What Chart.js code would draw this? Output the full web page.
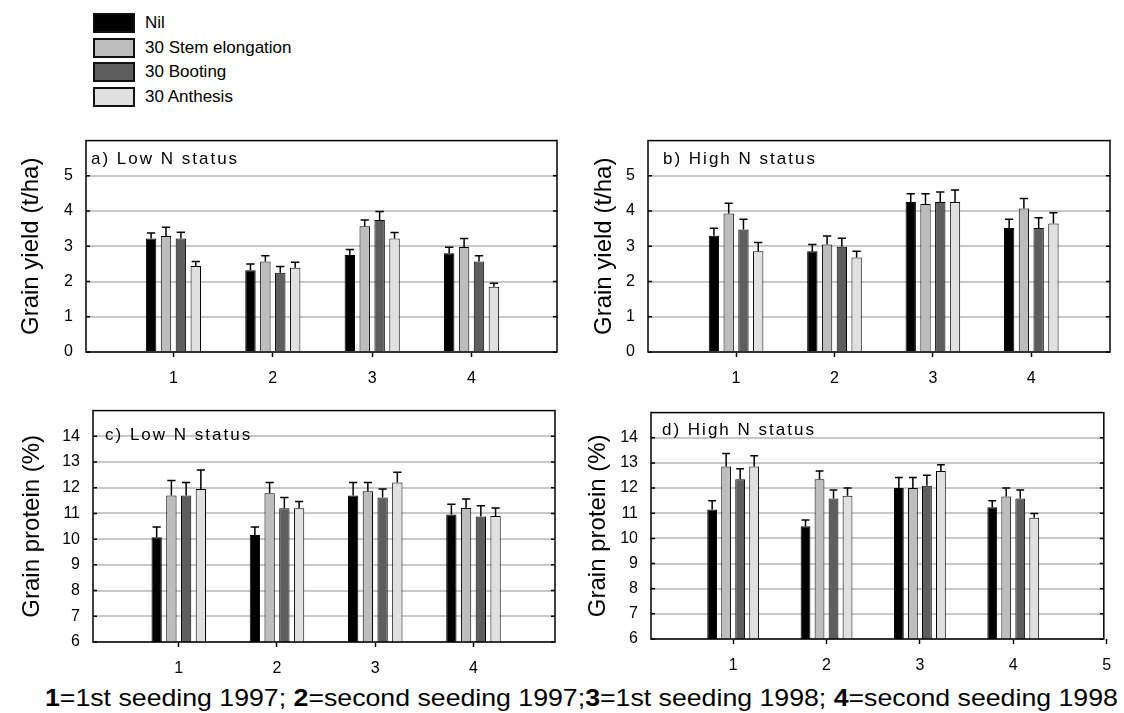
<!DOCTYPE html>
<html>
<head>
<meta charset="utf-8">
<script src="https://cdn.jsdelivr.net/npm/chart.js@4.4.1/dist/chart.umd.min.js"></script>
<style>
  body { margin: 0; background: #fff; width: 1124px; height: 713px; position: relative; overflow: hidden;
         font-family: "Liberation Sans", Arial, sans-serif; color: #000; }
  canvas { position: absolute; }
  .legend { position: absolute; left: 93px; top: 13px; }
  .legend div { display: flex; align-items: center; height: 20px; margin-bottom: 4.7px; font-size: 17px; }
  .legend .box { width: 38px; height: 16px; border: 2px solid #111; margin-right: 10px; }
  #caption { position: absolute; top: 684px; left: 45px; font-size: 24px; white-space: nowrap; transform-origin: 0 0; }
</style>
</head>
<body>
<div class="legend" id="legend"></div>
<canvas id="panelA" width="565" height="274"></canvas>
<canvas id="panelB" width="558" height="274"></canvas>
<canvas id="panelC" width="563" height="294"></canvas>
<canvas id="panelD" width="563" height="289"></canvas>
<div id="caption"><b>1</b>=1st seeding 1997; <b>2</b>=second seeding 1997;<b>3</b>=1st seeding 1998; <b>4</b>=second seeding 1998</div>
<script>
const categories = [1, 2, 3, 4];
const seriesNames = ["Nil", "30 Stem elongation", "30 Booting", "30 Anthesis"];
const seriesColors = ["#000000", "#bdbdbd", "#5e5e5e", "#e0e0e0"];

const yieldTicks = [0, 1, 2, 3, 4, 5];
const proteinTicks = [6, 7, 8, 9, 10, 11, 12, 13, 14];
const xTicks = [1, 2, 3, 4];
const xTicksWide = [1, 2, 3, 4, 5];

// a) grain yield, low N  (rows = series, cols = seeding)
const yieldLowMean = [
  [3.22, 2.32, 2.75, 2.80],
  [3.29, 2.57, 3.57, 2.98],
  [3.22, 2.25, 3.75, 2.57],
  [2.44, 2.39, 3.22, 1.85]
];
const yieldLowErr = [
  [0.16, 0.18, 0.16, 0.17],
  [0.25, 0.16, 0.18, 0.24],
  [0.18, 0.18, 0.24, 0.16],
  [0.13, 0.16, 0.17, 0.10]
];

// b) grain yield, high N
const yieldHighMean = [
  [3.30, 2.86, 4.26, 3.52],
  [3.93, 3.05, 4.20, 4.07],
  [3.48, 2.99, 4.26, 3.52],
  [2.86, 2.68, 4.26, 3.65]
];
const yieldHighErr = [
  [0.21, 0.19, 0.23, 0.25],
  [0.29, 0.24, 0.29, 0.29],
  [0.29, 0.24, 0.28, 0.29],
  [0.25, 0.18, 0.34, 0.30]
];

// c) grain protein, low N
const proteinLowMean = [
  [10.07, 10.16, 11.70, 10.96],
  [11.70, 11.79, 11.86, 11.21],
  [11.70, 11.20, 11.62, 10.88],
  [11.95, 11.20, 12.20, 10.90]
];
const proteinLowErr = [
  [0.40, 0.31, 0.50, 0.40],
  [0.58, 0.41, 0.34, 0.35],
  [0.50, 0.42, 0.33, 0.42],
  [0.74, 0.26, 0.40, 0.31]
];

// d) grain protein, high N
const proteinHighMean = [
  [11.15, 10.48, 12.00, 11.24],
  [12.86, 12.35, 12.00, 11.66],
  [12.35, 11.59, 12.09, 11.59],
  [12.86, 11.69, 12.68, 10.82]
];
const proteinHighErr = [
  [0.35, 0.25, 0.42, 0.26],
  [0.51, 0.33, 0.42, 0.34],
  [0.42, 0.33, 0.42, 0.33],
  [0.42, 0.31, 0.25, 0.17]
];

Chart.defaults.font.family = '"Liberation Sans", Arial, sans-serif';
Chart.defaults.color = "#000";

/* Legend */
const legendEl = document.getElementById("legend");
seriesNames.forEach((name, i) => {
  const row = document.createElement("div");
  row.innerHTML = `<span class="box" style="background:${seriesColors[i]}"></span>${name}`;
  legendEl.appendChild(row);
});

/* Caption squeezed to the reference width */
const caption = document.getElementById("caption");
caption.style.transform = `scaleX(${1073 / caption.offsetWidth})`;

/* error bars, frame, inner ticks, panel label */
function panelPlugin(label, labelDx, labelDy, err) {
  return {
    id: "panelDecor",
    afterDatasetsDraw(chart) {
      const ctx = chart.ctx;
      const y = chart.scales.y;
      ctx.save();
      ctx.strokeStyle = "#000";
      ctx.lineWidth = 1.5;
      chart.data.datasets.forEach((ds, i) => {
        const meta = chart.getDatasetMeta(i);
        meta.data.forEach((bar, j) => {
          const top = y.getPixelForValue(ds.data[j].y + err[i][j]);
          const w = bar.width * 0.4;
          ctx.beginPath();
          ctx.moveTo(bar.x, bar.y);
          ctx.lineTo(bar.x, top);
          ctx.moveTo(bar.x - w, top);
          ctx.lineTo(bar.x + w, top);
          ctx.stroke();
        });
      });
      ctx.restore();
    },
    afterDraw(chart) {
      const ctx = chart.ctx;
      const a = chart.chartArea;
      const y = chart.scales.y;
      ctx.save();
      ctx.strokeStyle = "#000";
      ctx.lineWidth = 1.5;
      ctx.strokeRect(a.left, a.top, a.right - a.left, a.bottom - a.top);
      y.ticks.forEach(t => {
        const py = y.getPixelForValue(t.value);
        ctx.beginPath();
        ctx.moveTo(a.left, py);
        ctx.lineTo(a.left + 4, py);
        ctx.moveTo(a.right - 4, py);
        ctx.lineTo(a.right, py);
        ctx.stroke();
      });
      ctx.fillStyle = "#000";
      ctx.font = '17px "Liberation Sans", Arial, sans-serif';
      ctx.letterSpacing = "2px";
      ctx.textBaseline = "middle";
      ctx.fillText(label, a.left + labelDx, a.top + labelDy);
      ctx.restore();
    }
  };
}

function makePanel(p) {
  const canvas = document.getElementById(p.id);
  canvas.style.left = p.left + "px";
  canvas.style.top = p.top + "px";

  const datasets = seriesNames.map((name, i) => ({
    label: name,
    data: categories.map((c, j) => ({ x: c, y: p.mean[i][j] })),
    backgroundColor: seriesColors[i],
    borderColor: "#000",
    borderWidth: 1,
    categoryPercentage: 0.6,
    barPercentage: 0.7
  }));

  new Chart(canvas, {
    type: "bar",
    data: { datasets },
    options: {
      responsive: false,
      animation: false,
      layout: { padding: { top: 10, right: p.padRight, left: 0, bottom: 0 } },
      plugins: { legend: { display: false }, tooltip: { enabled: false } },
      scales: {
        x: {
          type: "linear",
          offset: false,
          min: p.xMin,
          max: p.xMax,
          afterBuildTicks: s => { s.ticks = p.xTicks.map(v => ({ value: v })); },
          afterFit: s => { s.height = 40; },
          ticks: { font: { size: 16 }, padding: 12, autoSkip: false, maxRotation: 0 },
          grid: { offset: false, drawOnChartArea: false, drawTicks: true, tickLength: 5, tickColor: "#000", tickWidth: 1.5 },
          border: { display: false }
        },
        y: {
          min: p.yMin,
          max: p.yMax,
          afterBuildTicks: s => { s.ticks = p.yTicks.map(v => ({ value: v })); },
          afterFit: s => { s.width = p.axisW; },
          ticks: { font: { size: 16 }, padding: 13 },
          grid: { color: "#c8c8c8", lineWidth: 2, drawTicks: false },
          border: { display: false },
          title: { display: true, text: p.yTitle, font: { size: 24 }, padding: { top: p.titlePad, bottom: 0 } }
        }
      }
    },
    plugins: [panelPlugin(p.label, p.labelDx, p.labelDy, p.err)]
  });
}

makePanel({ id: "panelA", left: 0, top: 118, axisW: 86, titlePad: 16.6, padRight: 8,
  xMin: 0.12, xMax: 4.86, xTicks: xTicks, yMin: 0, yMax: 6, yTicks: yieldTicks,
  yTitle: "Grain yield (t/ha)", label: "a) Low N status", labelDx: 5, labelDy: 19,
  mean: yieldLowMean, err: yieldLowErr });

makePanel({ id: "panelB", left: 560, top: 118, axisW: 88, titlePad: 29.6, padRight: 8,
  xMin: 0.105, xMax: 4.8, xTicks: xTicks, yMin: 0, yMax: 6, yTicks: yieldTicks,
  yTitle: "Grain yield (t/ha)", label: "b) High N status", labelDx: 15, labelDy: 19,
  mean: yieldHighMean, err: yieldHighErr });

makePanel({ id: "panelC", left: 0, top: 388, axisW: 93, titlePad: 17.6, padRight: 8,
  xMin: 0.127, xMax: 4.83, xTicks: xTicks, yMin: 6, yMax: 15, yTicks: proteinTicks,
  yTitle: "Grain protein (%)", label: "c) Low N status", labelDx: 12, labelDy: 25,
  mean: proteinLowMean, err: proteinLowErr });

makePanel({ id: "panelD", left: 560, top: 390, axisW: 91, titlePad: 23.6, padRight: 10,
  xMin: 0.12, xMax: 4.97, xTicks: xTicksWide, yMin: 6, yMax: 15, yTicks: proteinTicks,
  yTitle: "Grain protein (%)", label: "d) High N status", labelDx: 11, labelDy: 18,
  mean: proteinHighMean, err: proteinHighErr });
</script>
</body>
</html>
